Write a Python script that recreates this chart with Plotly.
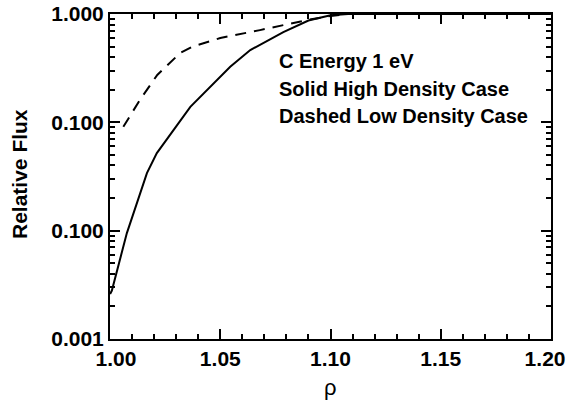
import plotly.graph_objects as go

# Solid: high density case
rho_high = [1.000, 1.0008, 1.0076, 1.0167, 1.0212, 1.0303, 1.0364, 1.0545, 1.0636, 1.0786, 1.090, 1.100, 1.108, 1.120, 1.200]
flux_high = [0.0026, 0.0028, 0.0095, 0.034, 0.052, 0.094, 0.139, 0.326, 0.465, 0.68, 0.87, 0.975, 1.0, 1.0, 1.0]

# Dashed: low density case
rho_low = [1.006, 1.0136, 1.0214, 1.0318, 1.0373, 1.050, 1.068, 1.0895, 1.100, 1.108, 1.200]
flux_low = [0.091, 0.162, 0.274, 0.437, 0.50, 0.60, 0.71, 0.88, 0.96, 1.0, 1.0]

y_tickvals = [0.001, 0.01, 0.1, 1.0]
y_ticktext = ["0.001", "0.100", "0.100", "1.000"]
y_minor = [m * 10.0 ** e for e in (-3, -2, -1) for m in range(2, 10)]

x_tickvals = [1.00, 1.05, 1.10, 1.15, 1.20]
x_ticktext = ["1.00", "1.05", "1.10", "1.15", "1.20"]

annot_lines = ["C Energy 1 eV", "Solid High Density Case", "Dashed Low Density Case"]
x_title = "ρ"
y_title = "Relative Flux"

fig = go.Figure()
fig.add_trace(go.Scatter(x=rho_high, y=flux_high, mode="lines",
                         line=dict(color="black", width=2), showlegend=False))
fig.add_trace(go.Scatter(x=rho_low, y=flux_low, mode="lines",
                         line=dict(color="black", width=2, dash="11px,8px"), showlegend=False))

font = dict(family="Liberation Sans, Arial, sans-serif", color="black")

W, H = 570, 410
L, R, T, B = 110, 551, 14, 339


def px(x):
    return (x - L) / (R - L)


def py(y):
    return (B - y) / (B - T)


NB = "\u00a0"
x_labels = ["<b>" + t + "</b>" for t in x_ticktext]
x_labels[0] = NB + NB + x_labels[0]
x_labels[-1] = x_labels[-1] + NB + NB

fig.update_layout(
    width=W, height=H,
    margin=dict(l=L, r=W - R, t=T, b=H - B),
    paper_bgcolor="white", plot_bgcolor="white",
    font=dict(**font, size=20),
    xaxis=dict(
        range=[0.99995, 1.20005], tickmode="array", tickvals=x_tickvals,
        ticktext=x_labels,
        ticks="inside", ticklen=10, tickwidth=2, tickcolor="black",
        showline=True, linewidth=2, linecolor="black", mirror="ticks",
        showgrid=False, zeroline=False, automargin=False, ticklabeloverflow="allow",
        minor=dict(ticks="inside", ticklen=5, tickwidth=2, tickcolor="black", dtick=0.01, showgrid=False),
        tickfont=dict(**font, size=21),
    ),
    yaxis=dict(
        type="log", range=[-3, 0], tickmode="array", tickvals=y_tickvals,
        ticktext=["<b>" + t + "</b>" for t in y_ticktext],
        ticks="inside", ticklen=10, tickwidth=2, tickcolor="black",
        showline=True, linewidth=2, linecolor="black", mirror="ticks",
        showgrid=False, zeroline=False, automargin=False, ticklabeloverflow="allow",
        minor=dict(ticks="inside", ticklen=5, tickwidth=2, tickcolor="black",
                   tickmode="array", tickvals=y_minor, showgrid=False),
        tickfont=dict(**font, size=21),
    ),
)

for i, t in enumerate(annot_lines):
    fig.add_annotation(x=px(277), y=py(61 + 27.5 * i),
                       xref="paper", yref="paper", text="<b>" + t + "</b>",
                       showarrow=False, xanchor="left", yanchor="middle",
                       font=dict(**font, size=20))

fig.add_annotation(x=px(330), y=py(387), xref="paper", yref="paper", text=x_title,
                   showarrow=False, xanchor="center", yanchor="middle",
                   font=dict(family="Liberation Sans, Arial, sans-serif", size=22, color="black"))
fig.add_annotation(x=px(19), y=py(174), xref="paper", yref="paper", text="<b>" + y_title + "</b>",
                   showarrow=False, xanchor="center", yanchor="middle", textangle=-90,
                   font=dict(**font, size=21))

fig.write_html("out.html", config={"displayModeBar": False},
               post_script="document.body.style.margin='0px';")
